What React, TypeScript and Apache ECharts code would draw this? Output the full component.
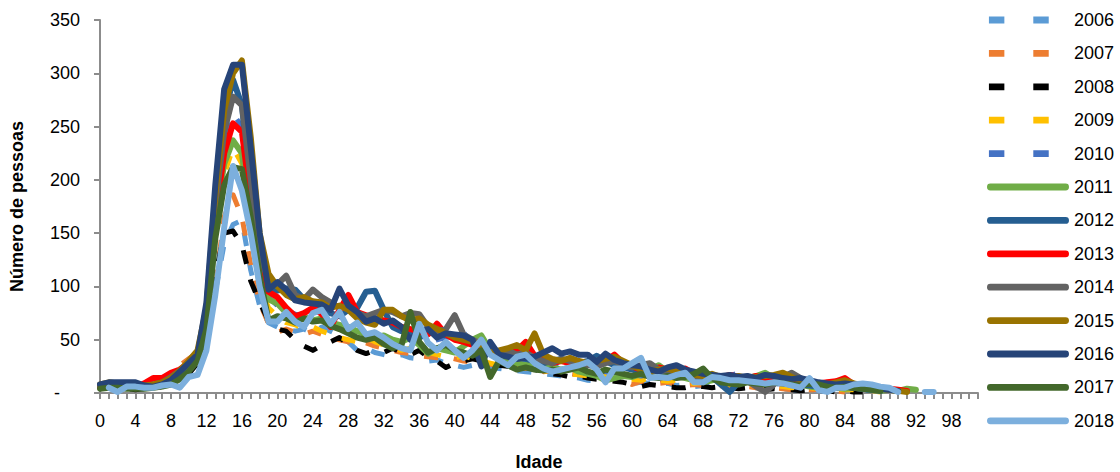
import React, { useEffect, useRef } from "react";
import * as echarts from "echarts";

const AGE_LABELS: string[] = [
  "0","1","2","3","4","5","6","7","8","9","10","11","12","13","14","15","16","17","18","19",
  "20","21","22","23","24","25","26","27","28","29","30","31","32","33","34","35","36","37","38","39",
  "40","41","42","43","44","45","46","47","48","49","50","51","52","53","54","55","56","57","58","59",
  "60","61","62","63","64","65","66","67","68","69","70","71","72","73","74","75","76","77","78","79",
  "80","81","82","83","84","85","86","87","88","89","90","91","92","93","94","96","98","99","100","101"
];

const Y_TICKS = { min: 0, max: 350, interval: 50 };

const YEARS = ["2006","2007","2008","2009","2010","2011","2012","2013","2014","2015","2016","2017","2018"];
const COLORS = ["#5b9bd5","#ed7d31","#000000","#ffc000","#4472c4","#70ad47","#255e91","#ff0000","#636363","#997300","#264478","#43682b","#7cafdd"];
const DASHED = [true,true,true,true,true,false,false,false,false,false,false,false,false];

const v2006 = [5,6,5,5,4,5,6,7,10,14,20,30,55,95,140,158,162,115,82,66,62,60,58,60,56,62,58,54,48,40,42,38,36,34,36,33,32,30,31,28,26,24,26,25,24,23,22,21,20,19,18,17,16,15,14,12,11,12,13,10,9,10,9,8,9,7,8,6,7,6,5,6,5,4,5,4,3,4,3,2,3,2,2,1];
const v2007 = [6,7,6,5,5,6,8,12,18,26,32,38,60,100,165,186,165,120,85,65,57,60,57,55,58,55,52,50,48,46,47,44,42,40,38,37,35,34,33,34,32,30,29,28,27,26,25,24,23,22,20,21,19,18,17,16,15,14,13,12,8,11,10,9,10,8,7,8,7,6,7,6,5,6,5,4,5,4,3,4,3,3,2,2,1];
const v2008 = [4,5,4,4,3,4,5,6,10,13,18,28,55,110,150,152,139,105,85,68,60,58,50,44,40,45,48,52,46,40,37,40,38,42,38,36,40,34,30,24,28,30,32,30,28,26,25,25,24,22,20,18,17,15,16,14,13,12,11,10,8,6,8,7,6,5,5,7,6,5,6,5,4,5,4,3,4,3,3,2,3,2,2,1,2,1,1];
const v2009 = [5,6,5,5,4,5,6,8,11,16,22,30,65,155,205,230,215,150,100,80,72,66,64,60,62,58,55,52,50,48,52,48,45,42,40,42,40,38,36,34,33,35,32,30,28,26,24,26,24,22,20,22,20,18,17,16,18,16,14,15,13,12,14,12,11,12,10,9,10,8,9,8,7,8,7,6,7,6,5,6,5,4,5,4,3,3,2,2,1];
const v2010 = [6,7,6,6,5,6,7,9,14,20,26,34,72,170,230,262,250,170,115,90,82,78,74,72,70,68,64,62,60,58,56,54,52,50,48,52,50,48,50,52,54,57,44,40,38,35,33,32,30,28,27,26,25,24,22,23,21,20,19,18,17,16,17,15,14,15,13,12,13,12,14,16,19,10,9,10,8,9,7,6,7,6,5,4,5,4,3,2,2];
const v2011 = [5,6,6,5,5,6,7,8,11,16,22,32,70,160,215,237,225,160,110,88,84,75,70,72,68,70,66,64,62,58,55,52,54,50,48,52,45,37,42,40,38,44,50,54,40,34,30,28,26,28,26,24,22,24,20,18,16,12,14,16,15,18,22,26,20,16,14,12,10,12,14,15,13,14,16,19,14,12,10,8,6,5,6,5,4,5,4,3,2,3,2,4,3];
const v2012 = [6,7,8,7,6,6,7,9,13,19,26,36,78,180,260,294,270,190,125,100,96,98,97,88,85,80,75,72,78,80,95,96,78,62,58,55,52,56,58,54,52,50,46,44,40,38,35,34,32,30,28,30,32,30,28,30,35,30,26,24,22,20,22,20,18,20,17,16,14,15,8,1,10,12,11,10,12,11,10,8,7,6,8,7,6,5,4,3,2];
const v2013 = [5,6,6,5,6,9,14,14,19,22,28,36,70,165,225,253,245,180,120,95,90,80,72,75,80,74,62,78,92,76,73,70,68,66,62,60,58,55,65,55,50,48,45,42,40,38,36,40,48,35,32,28,30,28,26,28,25,30,36,28,25,22,20,24,22,20,23,18,16,15,14,17,15,14,16,13,12,14,12,10,11,9,10,11,14,8,7,6,5,4,3,2];
const v2014 = [7,8,9,8,7,6,8,10,15,21,27,36,75,175,245,278,270,200,130,105,102,110,92,88,97,90,85,80,82,75,72,75,78,76,72,75,74,62,58,60,73,55,50,46,42,38,40,36,38,33,30,28,32,30,28,26,25,28,30,26,24,26,28,22,20,18,17,15,16,14,13,14,12,11,6,1,8,15,19,14,10,9,8,7,6,5,6,5,4,3];
const v2015 = [8,10,9,8,7,7,8,10,14,21,30,40,80,185,265,300,312,240,150,112,100,92,88,90,86,85,80,82,78,70,66,64,78,78,72,68,70,64,60,56,52,50,48,44,38,40,42,45,40,56,36,32,30,33,30,28,30,32,34,30,26,22,20,22,23,20,18,17,16,18,15,14,16,14,15,16,17,19,15,12,10,9,8,10,12,9,7,5,4,3,2,1];
const v2016 = [8,10,10,10,10,7,6,8,12,20,28,36,85,195,285,308,308,230,150,97,104,97,87,85,84,83,78,98,82,76,67,70,65,68,62,50,58,60,52,56,55,54,50,25,48,36,34,32,33,34,38,42,37,39,36,36,29,37,31,28,26,25,22,20,24,26,22,20,18,17,16,17,15,16,14,17,16,14,13,14,12,10,9,8,9,8,6,5,4,3,2];
const v2017 = [4,5,5,4,4,4,5,6,8,13,20,30,60,145,195,212,210,165,110,68,72,70,66,70,67,68,63,60,56,52,50,52,46,42,45,76,48,38,42,45,40,38,35,40,15,30,26,22,24,22,21,22,20,22,24,20,18,22,20,18,16,18,15,14,16,14,15,18,23,14,10,9,8,10,9,8,10,9,8,7,9,8,6,5,6,5,4,3,2];
const v2018 = [null,5,1,6,6,5,5,7,8,5,15,17,40,92,155,213,190,150,100,67,67,76,67,62,75,78,65,76,60,66,55,57,52,46,42,40,65,47,40,48,40,33,40,50,36,31,26,34,36,28,23,20,22,24,26,29,22,10,23,23,28,33,14,15,14,17,19,10,10,15,14,12,12,11,10,9,10,9,7,5,14,3,1,5,5,8,9,8,6,5,1,null,null,1,1];

const SERIES_VALUES = [v2006,v2007,v2008,v2009,v2010,v2011,v2012,v2013,v2014,v2015,v2016,v2017,v2018];

const FONT = "'Liberation Sans', Arial, sans-serif";

// legend icons: two short dashes (dashed series) or a rounded bar (solid series)
const DASH_ICON = "path://M2,0H18V7H2Z M48,0H64V7H48Z M0,3.5L0.01,3.5 M85,3.5L85.01,3.5";
const SOLID_ICON = "path://M3.5,0H81.5A3.5,3.5 0 0 1 81.5,7H3.5A3.5,3.5 0 0 1 3.5,0Z M0,3.5L0.01,3.5 M85,3.5L85.01,3.5";

export default function App() {
  const ref = useRef<HTMLDivElement>(null);
  useEffect(() => {
    if (!ref.current) return;
    const chart = echarts.init(ref.current, null, { renderer: "svg" });
    const series = YEARS.map((y, i) => ({
      name: y,
      type: "line",
      data: SERIES_VALUES[i],
      showSymbol: false,
      symbol: "none",
      connectNulls: false,
      lineStyle: {
        color: COLORS[i],
        width: DASHED[i] ? 5 : 6,
        type: DASHED[i] ? [14, 16] : "solid",
        cap: DASHED[i] ? "butt" : "round",
        join: "round",
      },
      itemStyle: { color: COLORS[i] },
      emphasis: { disabled: true },
    }));
    chart.setOption({
      animation: false,
      textStyle: { fontFamily: FONT },
      grid: {
        left: 100,
        right: 142,
        top: 20,
        bottom: 79,
        containLabel: false,
        outerBoundsMode: "none",
      },
      legend: {
        orient: "vertical",
        left: 987,
        top: 11,
        padding: 0,
        itemWidth: 82,
        itemHeight: 7,
        itemGap: 15.4,
        selectedMode: false,
        textStyle: { fontSize: 18, lineHeight: 18, color: "#000", fontFamily: FONT },
        data: YEARS.map((y, i) => ({
          name: y,
          icon: DASHED[i] ? DASH_ICON : SOLID_ICON,
          itemStyle: { color: COLORS[i], borderWidth: 0 },
        })),
      },
      xAxis: {
        type: "category",
        data: AGE_LABELS,
        boundaryGap: false,
        name: "Idade",
        nameLocation: "middle",
        nameGap: 60,
        nameTextStyle: { fontSize: 18, lineHeight: 18, fontWeight: "bold", color: "#000", fontFamily: FONT },
        axisLine: { lineStyle: { color: "#8c8c8c", width: 2 } },
        axisTick: { show: true, interval: 0, length: 6, lineStyle: { color: "#8c8c8c", width: 2 } },
        axisLabel: { interval: 3, fontSize: 18, color: "#000", margin: 19, fontFamily: FONT },
        splitLine: { show: false },
      },
      yAxis: {
        type: "value",
        min: Y_TICKS.min,
        max: Y_TICKS.max,
        interval: Y_TICKS.interval,
        name: "Número de pessoas",
        nameLocation: "middle",
        nameGap: 74,
        nameTextStyle: { fontSize: 18, lineHeight: 18, fontWeight: "bold", color: "#000", fontFamily: FONT },
        axisLine: { show: true, lineStyle: { color: "#8c8c8c", width: 2 } },
        axisTick: { show: true, length: 6, lineStyle: { color: "#8c8c8c", width: 2 } },
        axisLabel: {
          fontSize: 18,
          color: "#000",
          margin: 20,
          fontFamily: FONT,
          formatter: (v: number) => (v === 0 ? "{d|-}" : String(v)),
          rich: { d: { fontSize: 18, color: "#000", padding: [0, 20, 0, 0], fontFamily: FONT } },
        },
        splitLine: { show: false },
      },
      series,
    });
    return () => chart.dispose();
  }, []);
  return (
    <div
      ref={ref}
      style={{ position: "fixed", left: 0, top: 0, width: 1120, height: 472, background: "#fff" }}
    />
  );
}
